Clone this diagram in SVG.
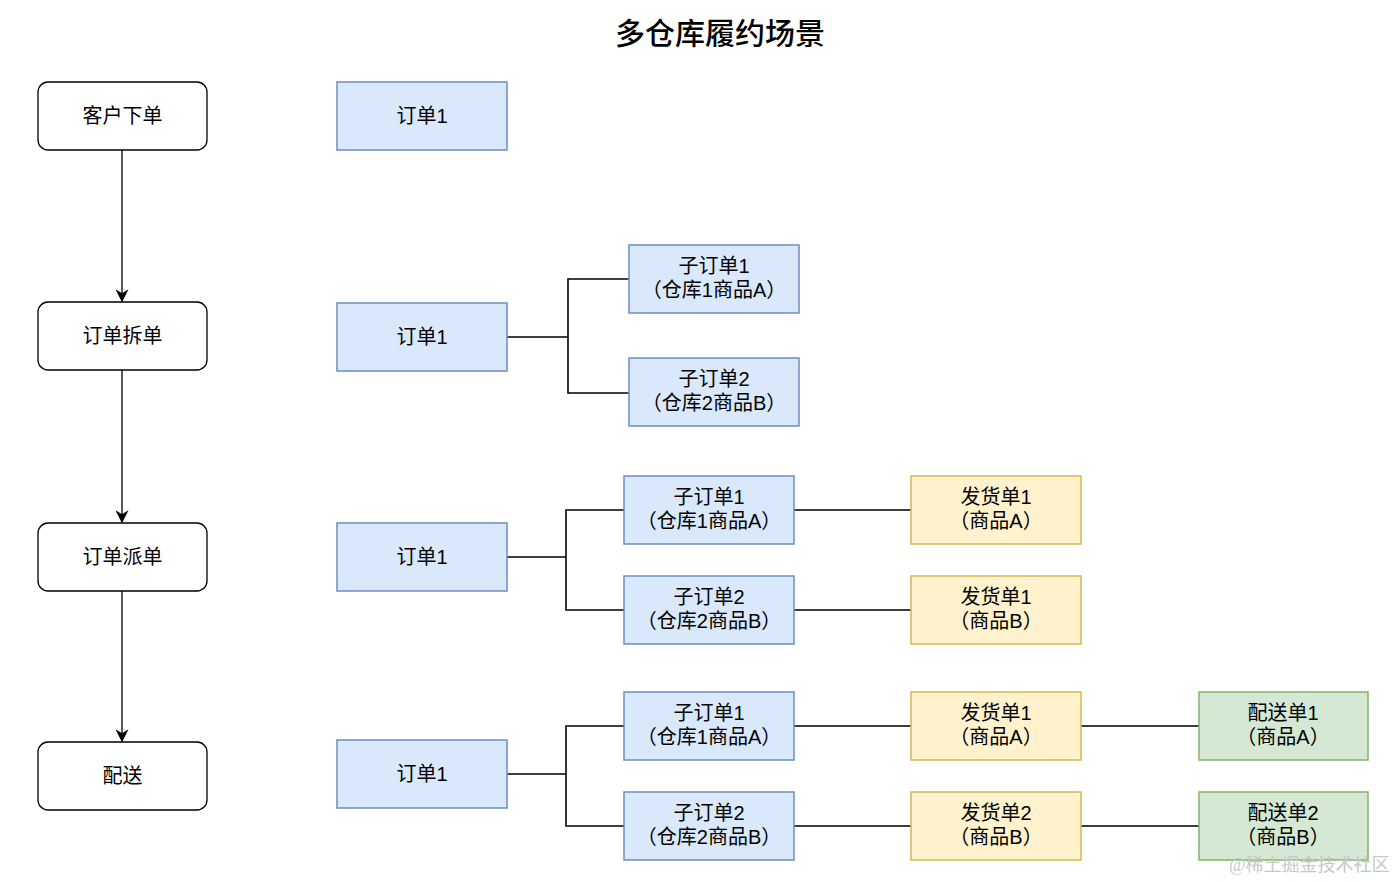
<svg xmlns="http://www.w3.org/2000/svg" width="1396" height="882" viewBox="0 0 1396 882">
<defs>
<style>
text{font-family:"Liberation Sans","Noto Sans CJK SC",sans-serif;font-size:20px;fill:#000;text-anchor:middle;dominant-baseline:central}
.title{font-size:30px;font-weight:500}
.step{fill:#fff;stroke:#000;stroke-width:1.3}
.blue{fill:#dae8fc;stroke:#6c8ebf;stroke-width:1.5}
.yellow{fill:#fff2cc;stroke:#d6b656;stroke-width:1.5}
.green{fill:#d5e8d4;stroke:#82b366;stroke-width:1.5}
.conn{fill:none;stroke:#000;stroke-width:1.6}
.wm{font-family:"Liberation Serif","Noto Sans CJK SC",serif;font-size:18px;fill:#c8c8c8;text-anchor:start}
</style>
<marker id="arr" viewBox="0 0 10 10" refX="9" refY="5" markerWidth="13" markerHeight="13" markerUnits="userSpaceOnUse" orient="auto">
<path d="M0,0 L10,5 L0,10 L3,5 Z" fill="#000"/>
</marker>
</defs>
<text class="title" x="720" y="33">多仓库履约场景</text>

<g id="connectors">
<line class="conn" x1="122" y1="150" x2="122" y2="301" marker-end="url(#arr)" style="stroke-width:1.3"/>
<line class="conn" x1="122" y1="370" x2="122" y2="522" marker-end="url(#arr)" style="stroke-width:1.3"/>
<line class="conn" x1="122" y1="591" x2="122" y2="741" marker-end="url(#arr)" style="stroke-width:1.3"/>
<path class="conn" d="M507,337 H568 M629,279 H568 V393 H629"/>
<path class="conn" d="M507,557 H566 M624,510 H566 V610 H624"/>
<path class="conn" d="M794,510 H911 M794,610 H911"/>
<path class="conn" d="M507,774 H566 M624,726 H566 V826 H624"/>
<path class="conn" d="M794,726 H911 M794,826 H911 M1081,726 H1199 M1081,826 H1199"/>
</g>

<g id="step1"><rect class="step" x="38" y="82" width="169" height="68" rx="10"/><text x="122.5" y="116">客户下单</text></g>
<g id="step2"><rect class="step" x="38" y="302" width="169" height="68" rx="10"/><text x="122.5" y="336">订单拆单</text></g>
<g id="step3"><rect class="step" x="38" y="523" width="169" height="68" rx="10"/><text x="122.5" y="557">订单派单</text></g>
<g id="step4"><rect class="step" x="38" y="742" width="169" height="68" rx="10"/><text x="122.5" y="776">配送</text></g>

<g id="order-r1"><rect class="blue" x="337" y="82" width="170" height="68"/><text x="422" y="116">订单1</text></g>
<g id="order-r2"><rect class="blue" x="337" y="303" width="170" height="68"/><text x="422" y="337">订单1</text></g>
<g id="order-r3"><rect class="blue" x="337" y="523" width="170" height="68"/><text x="422" y="557">订单1</text></g>
<g id="order-r4"><rect class="blue" x="337" y="740" width="170" height="68"/><text x="422" y="774">订单1</text></g>

<g id="sub1-r2"><rect class="blue" x="629" y="245" width="170" height="68"/><text x="714" y="266">子订单1</text><text x="714" y="290">（仓库1商品A）</text></g>
<g id="sub2-r2"><rect class="blue" x="629" y="358" width="170" height="68"/><text x="714" y="379">子订单2</text><text x="714" y="403">（仓库2商品B）</text></g>

<g id="sub1-r3"><rect class="blue" x="624" y="476" width="170" height="68"/><text x="709" y="497">子订单1</text><text x="709" y="521">（仓库1商品A）</text></g>
<g id="sub2-r3"><rect class="blue" x="624" y="576" width="170" height="68"/><text x="709" y="597">子订单2</text><text x="709" y="621">（仓库2商品B）</text></g>
<g id="ship1-r3"><rect class="yellow" x="911" y="476" width="170" height="68"/><text x="996" y="497">发货单1</text><text x="996" y="521">（商品A）</text></g>
<g id="ship2-r3"><rect class="yellow" x="911" y="576" width="170" height="68"/><text x="996" y="597">发货单1</text><text x="996" y="621">（商品B）</text></g>

<g id="sub1-r4"><rect class="blue" x="624" y="692" width="170" height="68"/><text x="709" y="713">子订单1</text><text x="709" y="737">（仓库1商品A）</text></g>
<g id="sub2-r4"><rect class="blue" x="624" y="792" width="170" height="68"/><text x="709" y="813">子订单2</text><text x="709" y="837">（仓库2商品B）</text></g>
<g id="ship1-r4"><rect class="yellow" x="911" y="692" width="170" height="68"/><text x="996" y="713">发货单1</text><text x="996" y="737">（商品A）</text></g>
<g id="ship2-r4"><rect class="yellow" x="911" y="792" width="170" height="68"/><text x="996" y="813">发货单2</text><text x="996" y="837">（商品B）</text></g>
<g id="deliv1-r4"><rect class="green" x="1199" y="692" width="169" height="68"/><text x="1283" y="713">配送单1</text><text x="1283" y="737">（商品A）</text></g>
<g id="deliv2-r4"><rect class="green" x="1199" y="792" width="169" height="68"/><text x="1283" y="813">配送单2</text><text x="1283" y="837">（商品B）</text></g>

<text class="wm" x="1229" y="865">@稀土掘金技术社区</text>
</svg>
